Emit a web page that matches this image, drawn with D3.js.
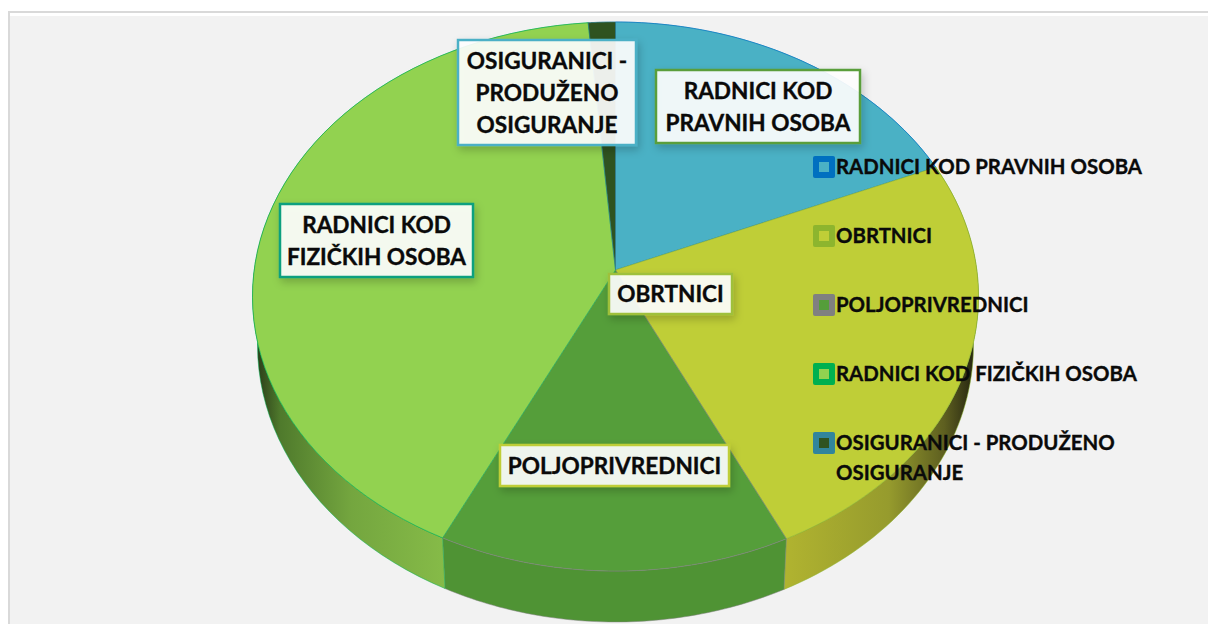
<!DOCTYPE html>
<html>
<head>
<meta charset="utf-8">
<script src="https://cdnjs.cloudflare.com/ajax/libs/d3/7.8.5/d3.min.js"></script>
<style>
  html, body { margin: 0; padding: 0; background: #fff; overflow: hidden; }
  text { font-family: Lato, "Open Sans", sans-serif; font-weight: 700; fill: #0a0a0a; stroke: #0a0a0a; stroke-width: 0.35px; }
</style>
</head>
<body>
<svg id="chart" width="1208" height="624"></svg>
<script>
// values (share of the pie, %)
const categories = [
  "RADNICI KOD PRAVNIH OSOBA",
  "OBRTNICI",
  "POLJOPRIVREDNICI",
  "RADNICI KOD FIZIČKIH OSOBA",
  "OSIGURANICI - PRODUŽENO OSIGURANJE"
];
const shares = [17.2, 25.0, 15.7, 40.9, 1.2];

const topColors = ["#4ab1c5", "#bfce37", "#559e3a", "#92d250", "#2f5320"];
const edgeColors = ["#0070c0", "#8db52e", "#808080", "#00b050", "#31859c"];
const legendLines = [
  ["RADNICI KOD PRAVNIH OSOBA"],
  ["OBRTNICI"],
  ["POLJOPRIVREDNICI"],
  ["RADNICI KOD FIZIČKIH OSOBA"],
  ["OSIGURANICI - PRODUŽENO", "OSIGURANJE"]
];
const labelLines = [
  ["RADNICI KOD", "PRAVNIH OSOBA"],
  ["OBRTNICI"],
  ["POLJOPRIVREDNICI"],
  ["RADNICI KOD", "FIZIČKIH OSOBA"],
  ["OSIGURANICI -", "PRODUŽENO", "OSIGURANJE"]
];

// label boxes: x0, y0, x1, y1
const labelBoxes = [
  [656, 70, 860, 143],
  [609, 274, 732, 314],
  [500, 445, 729, 486],
  [280, 204, 473, 277],
  [458, 40, 636, 145]
];
const labelBorders = ["#5a9e3a", "#9fc03a", "#bfce37", "#0ea07f", "#4bb0c6"];

// the pie sits in perspective: rim ellipses and an apex above the ellipse centre
const topRim = { cx: 615.5, cy: 296.5, rx: 363, ry: 274.5 };
const baseRim = { cx: 615.5, cy: 345, rx: 358, ry: 277 };
const apex = [615.5, 270];

const svg = d3.select("#chart");

// Background and frame
svg.append("rect").attr("x", 10).attr("y", 16).attr("width", 1198).attr("height", 608).attr("fill", "#f2f2f2");
svg.append("rect").attr("x", 8).attr("y", 11).attr("width", 1200).attr("height", 2).attr("fill", "#d9d9d9");
svg.append("rect").attr("x", 8).attr("y", 11).attr("width", 2).attr("height", 613).attr("fill", "#d9d9d9");

const defs = svg.append("defs");

const shadow = defs.append("filter").attr("id", "boxShadow")
  .attr("x", "-20%").attr("y", "-30%").attr("width", "140%").attr("height", "170%");
shadow.append("feDropShadow").attr("dx", 2).attr("dy", 4).attr("stdDeviation", 4)
  .attr("flood-color", "#000").attr("flood-opacity", 0.22);

// Side gradients, dark towards the far edges
const sideStops = [
  [[0, "#4ab1c5"], [1, "#4ab1c5"]],
  [[0, "#b0b330"], [0.55, "#969b2d"], [0.85, "#5e5f20"], [1, "#2a2a12"]],
  [[0, "#4f9334"], [1, "#4f9334"]],
  [[0, "#2c401a"], [0.12, "#4f7a2c"], [0.5, "#74a63f"], [1, "#86bb48"]],
  [[0, "#2f5320"], [1, "#2f5320"]]
];
const sideSpans = [[615, 930], [787, 972], [443, 787], [258, 445], [587, 615]];
sideStops.forEach((stops, i) => {
  const g = defs.append("linearGradient").attr("id", "side" + i)
    .attr("gradientUnits", "userSpaceOnUse")
    .attr("x1", sideSpans[i][0]).attr("x2", sideSpans[i][1])
    .attr("y1", 0).attr("y2", 0);
  g.selectAll("stop").data(stops).enter().append("stop")
    .attr("offset", (d) => d[0]).attr("stop-color", (d) => d[1]);
});

// Slices
const pie = d3.pie().sort(null).startAngle(0).endAngle(2 * Math.PI);
const arcs = pie(shares);

const onRim = (rim, t) => [rim.cx + rim.rx * Math.sin(t), rim.cy - rim.ry * Math.cos(t)];
const rimPoints = (rim, d) =>
  d3.range(0, 61).map((k) => onRim(rim, d.startAngle + ((d.endAngle - d.startAngle) * k) / 60));
const line = d3.line();

const sides = svg.append("g");
sides.selectAll("path").data(arcs).enter().append("path")
  .attr("d", (d) => line(rimPoints(topRim, d).concat(rimPoints(baseRim, d).reverse())) + "Z")
  .attr("fill", (d, i) => "url(#side" + i + ")")
  .attr("stroke", (d, i) => edgeColors[i])
  .attr("stroke-width", 0.5);

const tops = svg.append("g");
tops.selectAll("path").data(arcs).enter().append("path")
  .attr("d", (d) => line([apex].concat(rimPoints(topRim, d))) + "Z")
  .attr("fill", (d, i) => topColors[i])
  .attr("stroke", (d, i) => edgeColors[i])
  .attr("stroke-width", 0.6)
  .attr("stroke-linejoin", "round");

// Legend
const legendY = d3.scalePoint().domain(categories).range([167, 443]);
const legend = svg.append("g").selectAll("g").data(categories).enter().append("g")
  .attr("transform", (d) => "translate(813," + legendY(d) + ")");
legend.append("rect").attr("x", 0).attr("y", -11).attr("width", 22).attr("height", 22).attr("rx", 2)
  .attr("fill", (d, i) => edgeColors[i]);
legend.append("rect").attr("x", 6).attr("y", -5).attr("width", 10).attr("height", 10)
  .attr("fill", (d, i) => topColors[i]);
legend.each(function (d, i) {
  d3.select(this).selectAll("text").data(legendLines[i]).enter().append("text")
    .attr("x", 23)
    .attr("y", (t, k) => k * 30)
    .attr("dy", "0.35em")
    .attr("font-size", 20.4)
    .text((t) => t);
});

// Data labels
const labels = svg.append("g").selectAll("g").data(categories).enter().append("g");
labels.append("rect")
  .attr("x", (d, i) => labelBoxes[i][0])
  .attr("y", (d, i) => labelBoxes[i][1])
  .attr("width", (d, i) => labelBoxes[i][2] - labelBoxes[i][0])
  .attr("height", (d, i) => labelBoxes[i][3] - labelBoxes[i][1])
  .attr("fill", "#fff")
  .attr("fill-opacity", 0.9)
  .attr("stroke", (d, i) => labelBorders[i])
  .attr("stroke-width", 2.5)
  .attr("filter", "url(#boxShadow)");
labels.each(function (d, i) {
  const b = labelBoxes[i];
  const n = labelLines[i].length;
  d3.select(this).selectAll("text").data(labelLines[i]).enter().append("text")
    .attr("x", (b[0] + b[2]) / 2)
    .attr("y", (t, k) => (b[1] + b[3]) / 2 + (k - (n - 1) / 2) * 32)
    .attr("dy", "0.36em")
    .attr("text-anchor", "middle")
    .attr("font-size", 22.6)
    .text((t) => t);
});
</script>
</body>
</html>
